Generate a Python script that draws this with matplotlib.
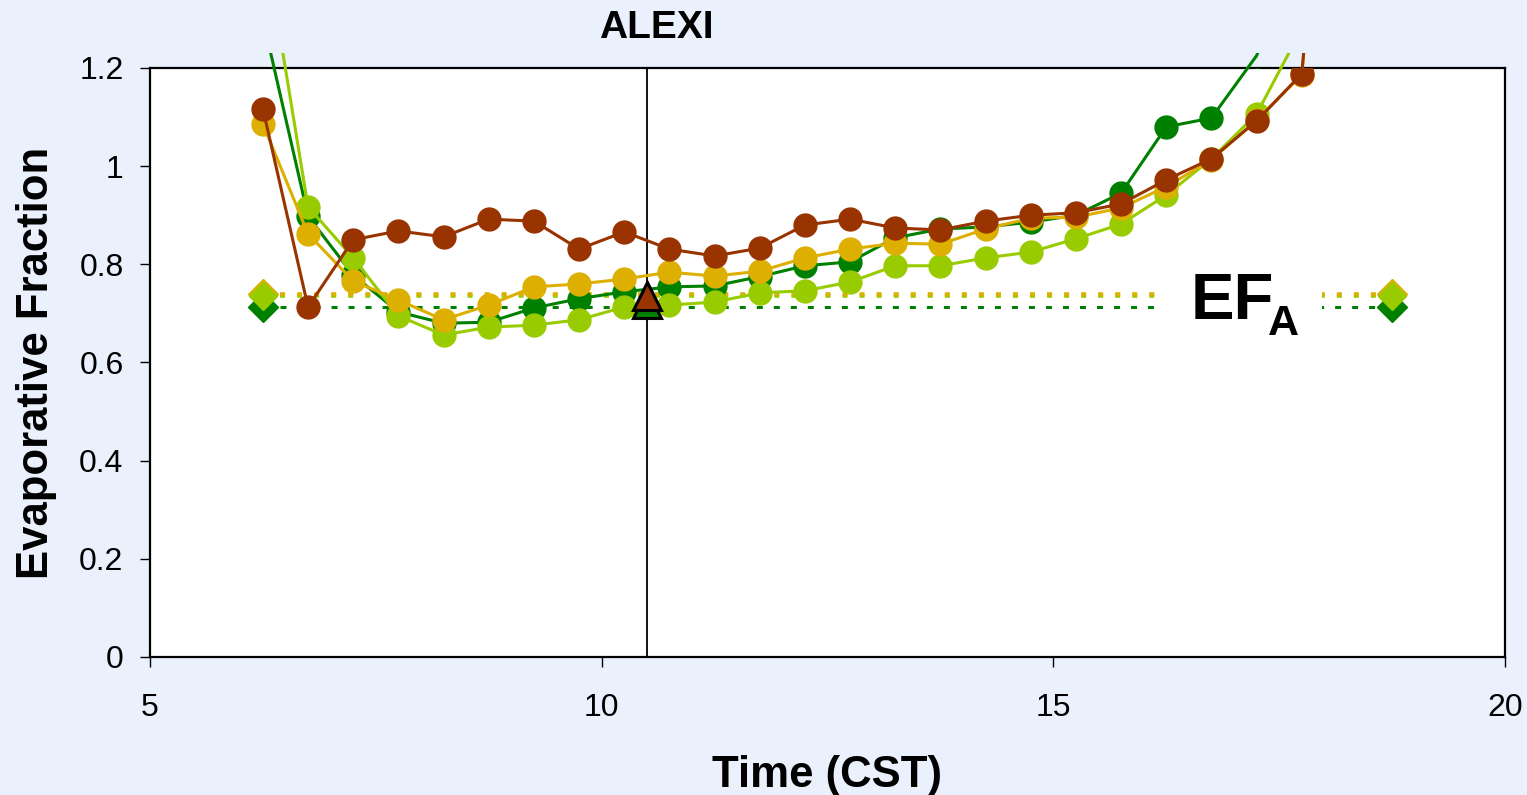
import matplotlib
matplotlib.use("Agg")
import matplotlib.pyplot as plt
from matplotlib.patches import Rectangle

plt.rcParams['font.family'] = ['Liberation Sans', 'DejaVu Sans']

# ---------------- data ----------------
times = [6.25, 6.75, 7.25, 7.75, 8.25, 8.75, 9.25, 9.75, 10.25, 10.75, 11.25, 11.75,
         12.25, 12.75, 13.25, 13.75, 14.25, 14.75, 15.25, 15.75, 16.25, 16.75, 17.25, 17.75, 18.25]

ef_dark_green = [1.30, 0.898, 0.778, 0.703, 0.680, 0.682, 0.711, 0.730, 0.744, 0.754, 0.756, 0.775,
                 0.797, 0.805, 0.854, 0.872, 0.876, 0.886, 0.900, 0.945, 1.080, 1.098, 1.225, 1.45, None]
ef_light_green = [1.48, 0.917, 0.813, 0.695, 0.656, 0.672, 0.676, 0.687, 0.713, 0.717, 0.723, 0.742,
                  0.746, 0.764, 0.797, 0.797, 0.813, 0.825, 0.852, 0.882, 0.941, 1.015, 1.106, 1.28, None]
ef_gold = [1.086, 0.862, 0.766, 0.727, 0.687, 0.717, 0.754, 0.760, 0.770, 0.784, 0.776, 0.786,
           0.813, 0.831, 0.843, 0.841, 0.872, 0.894, 0.896, 0.915, 0.958, 1.013, 1.094, 1.186, 2.2]
ef_brown = [1.117, 0.713, 0.850, 0.868, 0.856, 0.892, 0.888, 0.831, 0.866, 0.831, 0.817, 0.833,
            0.880, 0.892, 0.874, 0.870, 0.888, 0.900, 0.905, 0.923, 0.972, 1.015, 1.092, 1.188, 2.2]

# daytime average EF_A (dotted reference lines, end points)
efa_x = [6.25, 18.75]
efa_gold = [0.740, 0.740]
efa_light_green = [0.736, 0.736]
efa_dark_green = [0.713, 0.713]

# ALEXI overpass estimate
overpass_time = 10.5
alexi_brown = 0.735
alexi_green = 0.719

x_ticks = [5, 10, 15, 20]
y_ticks = [0, 0.2, 0.4, 0.6, 0.8, 1.0, 1.2]
y_tick_labels = ["0", "0.2", "0.4", "0.6", "0.8", "1", "1.2"]

# ---------------- style ----------------
BG = "#EAF1FD"
C_DG = "#008000"
C_LG = "#99CC00"
C_GOLD = "#DDAF00"
C_BR = "#993300"

fig = plt.figure(figsize=(15.27, 7.95), dpi=100, facecolor=BG)
ax = fig.add_axes([0.0982, 0.1736, 0.8874, 0.7409])
ax.set_facecolor("white")
ax.set_xlim(5, 20)
ax.set_ylim(0, 1.2)

# dotted EF_A reference lines
ax.plot(efa_x, efa_dark_green, color=C_DG, lw=2.16, ls=(0, (2.0, 3.67)), zorder=2, dash_capstyle='butt')
ax.plot(efa_x, efa_light_green, color=C_LG, lw=2.6, ls=(0, (1.39, 3.33)), zorder=2, dash_capstyle='butt')
ax.plot(efa_x, efa_gold, color=C_GOLD, lw=2.6, ls=(0, (1.39, 3.33)), zorder=2.05, dash_capstyle='butt')
ax.plot(efa_x, efa_dark_green, ls='none', marker='D', ms=15, mfc=C_DG, mec=C_DG, zorder=2.2)
ax.plot(efa_x, efa_gold, ls='none', marker='D', ms=15.5, mfc=C_GOLD, mec=C_GOLD, zorder=2.3)
ax.plot(efa_x, efa_light_green, ls='none', marker='D', ms=14.5, mfc=C_LG, mec=C_LG, zorder=2.4)

# label gap and EF_A label
ax.add_patch(Rectangle((16.2, 0.69), 1.77, 0.07, facecolor='white', edgecolor='none', zorder=2.6))
ax.text(16.52, 0.689, "EF", fontsize=47, fontweight='bold', ha='left', va='baseline', zorder=3)
ax.text(17.37, 0.656, "A", fontsize=31, fontweight='bold', ha='left', va='baseline', zorder=3)

# overpass line
ax.axvline(overpass_time, color='black', lw=1.3, zorder=3)

# series: lines clipped slightly above the plot area, markers clipped to it
clip_rect = Rectangle((5, -0.1), 15, 1.331, transform=ax.transData, facecolor='none', edgecolor='none')
series = [(ef_dark_green, C_DG), (ef_light_green, C_LG), (ef_gold, C_GOLD), (ef_brown, C_BR)]
for i, (vals, col) in enumerate(series):
    xs = [t for t, v in zip(times, vals) if v is not None]
    ys = [v for v in vals if v is not None]
    ln, = ax.plot(xs, ys, color=col, lw=2.2, zorder=4 + i * 0.1)
    ln.set_clip_path(clip_rect)
    ax.plot(xs, ys, ls='none', marker='o', ms=16.5, mfc=col, mec=col, zorder=4.05 + i * 0.1)

# ALEXI triangles
ax.plot([overpass_time], [alexi_green], ls='none', marker='^', ms=20, mfc=C_DG, mec='black', mew=2.2, zorder=6)
ax.plot([overpass_time], [alexi_brown], ls='none', marker='^', ms=20, mfc=C_BR, mec='black', mew=2.2, zorder=6.1)

# axes styling
for sp in ax.spines.values():
    sp.set_linewidth(1.6)
    sp.set_color('black')
ax.set_xticks(x_ticks)
ax.set_xticklabels([str(v) for v in x_ticks])
ax.set_yticks(y_ticks)
ax.set_yticklabels(y_tick_labels)
ax.tick_params(axis='both', direction='out', length=7, width=1, labelsize=23, colors='black')
ax.tick_params(axis='y', pad=12)
ax.tick_params(axis='x', pad=19)

ax.set_xlabel("Time (CST)", fontsize=31.5, fontweight='bold', labelpad=23)
ax.set_ylabel("Evaporative Fraction", fontsize=31.5, fontweight='bold', labelpad=16)
fig.text(0.4296, 0.952, "ALEXI", fontsize=28, fontweight='bold', ha='center', va='baseline')

fig.savefig("out.png", dpi=100, facecolor=BG)
